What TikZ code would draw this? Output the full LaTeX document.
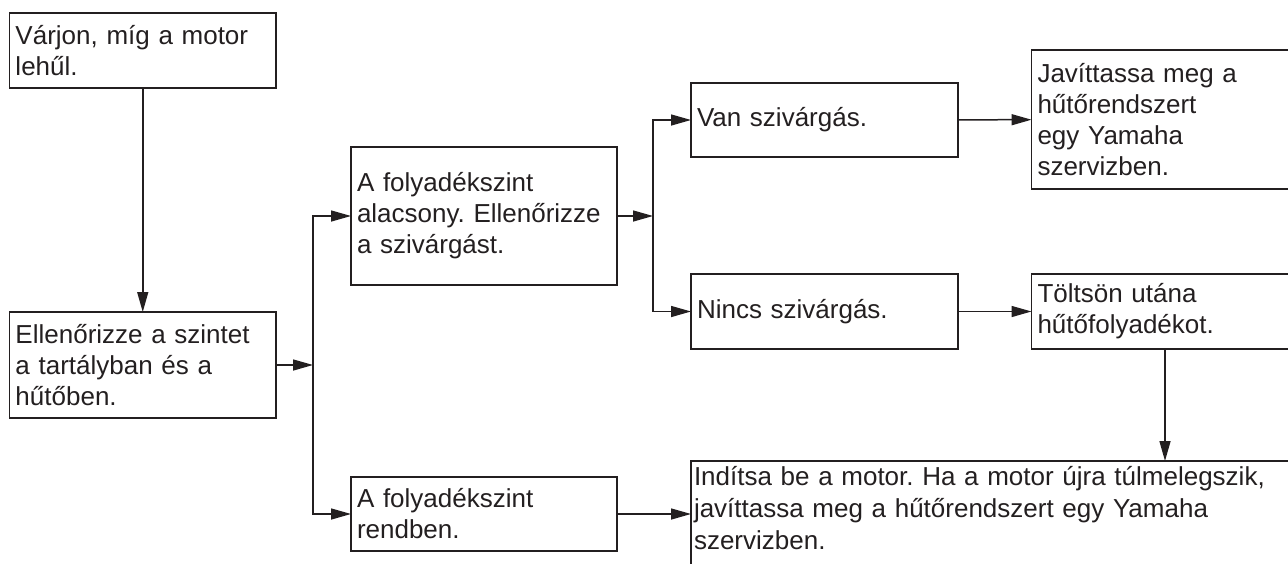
\documentclass[tikz,border=0pt]{standalone}
\usepackage{fontspec}
\setmainfont{Liberation Sans}
\usetikzlibrary{arrows.meta,calc}
\definecolor{ink}{RGB}{35,31,32}
\frenchspacing
\begin{document}
\begin{tikzpicture}[x=1pt,y=-1pt,line width=1.5pt,
  box/.style={draw=ink, rectangle, anchor=north west, outer sep=0pt,
    inner xsep=6pt, inner ysep=0pt, align=left, text=ink,
    font=\fontsize{26}{31}\selectfont},
  arr/.style={draw=ink, -{Triangle[length=20pt,width=11pt]}}]
\useasboundingbox (0,0) rectangle (1288,563);

% steps of the procedure
\node[box, minimum width=266.5pt, minimum height=75pt, text width=254.5pt]
  (wait) at (9.5,13) {Várjon, míg a motor\\lehűl.};
\node[box, minimum width=266.5pt, minimum height=106pt, text width=254.5pt]
  (check) at (9.5,312) {Ellenőrizze a szintet\\a tartályban és a\\hűtőben.};
\node[box, minimum width=266pt, minimum height=138pt, text width=254pt]
  (low) at (351,147) {A folyadékszint\\alacsony. Ellenőrizze\\a szivárgást.};
\node[box, minimum width=266pt, minimum height=74pt, text width=254pt]
  (ok) at (351,477) {A folyadékszint\\rendben.};
\node[box, minimum width=267pt, minimum height=74pt, text width=255pt]
  (leak) at (691,83) {Van szivárgás.};
\node[box, minimum width=267pt, minimum height=75pt, text width=255pt]
  (noleak) at (691,274) {Nincs szivárgás.};
\node[box, minimum width=267pt, minimum height=139pt, text width=255pt]
  (repair) at (1031.5,50) {Javíttassa meg a\\hűtőrendszert\\egy Yamaha\\szervizben.};
\node[box, minimum width=267pt, minimum height=75pt, text width=255pt]
  (refill) at (1031.5,274) {Töltsön utána\\hűtőfolyadékot.};
% the last step runs on past the lower and right edges
\node[box, inner xsep=3pt, inner ysep=5pt, minimum width=640pt, text width=634pt,
  font=\fontsize{26}{32}\selectfont]
  (start) at (691,461) {Indítsa be a motor. Ha a motor újra túlmelegszik,\\javíttassa meg a hűtőrendszert egy Yamaha\\szervizben.\par\vspace*{60pt}};

% branch points
\coordinate (j1) at ($(check.east)+(37,0)$);
\coordinate (j2) at ($(low.east)+(36,0)$);

% connectors
\draw[arr] (wait) -- (check);
\draw[arr] (check.east) -- (j1);
\draw[arr] (j1) |- (low.west);
\draw[arr] (j1) |- (ok.west);
\draw[arr] (low.east) -- (j2);
\draw[arr] (j2) |- (leak.west);
\draw[arr] (j2) |- (noleak.west);
\draw[arr] (leak) -- (repair);
\draw[arr] (noleak) -- (refill);
\draw[arr] (ok.east) -- (ok.east -| start.west);
\draw[arr] (refill.south) -- (refill.south |- start.north);
\end{tikzpicture}
\end{document}
